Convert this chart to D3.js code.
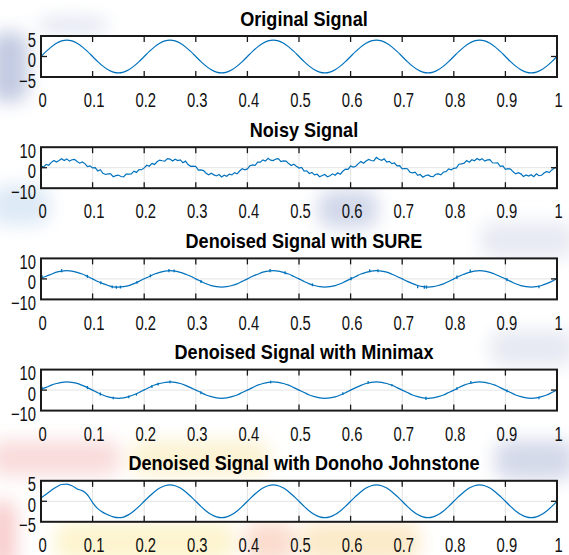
<!DOCTYPE html>
<html>
<head>
<meta charset="utf-8">
<script src="https://cdn.jsdelivr.net/npm/d3@7"></script>
<style>
  body { margin: 0; background: #fff; }
  svg { display: block; }
  text { font-family: "Liberation Sans", Arial, sans-serif; }
</style>
</head>
<body>
<svg id="chart" width="569" height="555"></svg>
<script>
// sample spacing (seconds) of the traces
const step = 0.01
const noisyStep = 0.005

const xTicks = [0, 0.1, 0.2, 0.3, 0.4, 0.5, 0.6, 0.7, 0.8, 0.9, 1]
const xTickLabels = ["0", "0.1", "0.2", "0.3", "0.4", "0.5", "0.6", "0.7", "0.8", "0.9", "1"]

const titles = [
  "Original Signal",
  "Noisy Signal",
  "Denoised Signal with SURE",
  "Denoised Signal with Minimax",
  "Denoised Signal with Donoho Johnstone"
]
const yTicksSmall = [-5, 0, 5]
const yTicksLarge = [-10, 0, 10]

const originalSignal = [
  0, 1.24, 2.35, 3.24, 3.8, 4, 3.8, 3.24, 2.35, 1.24,
  0, -1.24, -2.35, -3.24, -3.8, -4, -3.8, -3.24, -2.35, -1.24,
  0, 1.24, 2.35, 3.24, 3.8, 4, 3.8, 3.24, 2.35, 1.24,
  0, -1.24, -2.35, -3.24, -3.8, -4, -3.8, -3.24, -2.35, -1.24,
  0, 1.24, 2.35, 3.24, 3.8, 4, 3.8, 3.24, 2.35, 1.24,
  0, -1.24, -2.35, -3.24, -3.8, -4, -3.8, -3.24, -2.35, -1.24,
  0, 1.24, 2.35, 3.24, 3.8, 4, 3.8, 3.24, 2.35, 1.24,
  0, -1.24, -2.35, -3.24, -3.8, -4, -3.8, -3.24, -2.35, -1.24,
  0, 1.24, 2.35, 3.24, 3.8, 4, 3.8, 3.24, 2.35, 1.24,
  0, -1.24, -2.35, -3.24, -3.8, -4, -3.8, -3.24, -2.35, -1.24,
  0
]

const noisySignal = [
  1.0, 0.3, 1.6, 1.2, 2.6, 3.5, 2.8, 3.5, 4.4, 3.5,
  4.3, 3.2, 3.9, 4.1, 3.0, 2.2, 2.8, 2.0, 0.5, 0.9,
  -0.1, 0.0, -1.6, -1.0, -2.7, -3.3, -3.0, -3.0, -4.4, -3.9,
  -3.6, -4.3, -4.5, -3.1, -3.1, -3.0, -1.7, -2.3, -0.9, -1.0,
  -0.1, 1.2, 0.7, 2.1, 1.6, 2.9, 3.7, 3.4, 3.2, 4.4,
  4.2, 3.3, 4.1, 3.5, 3.8, 2.4, 3.2, 1.5, 0.7, 0.8,
  0.6, -1.2, -1.1, -1.4, -2.7, -3.5, -2.7, -3.5, -4.0, -3.3,
  -4.5, -3.7, -4.2, -3.1, -3.5, -2.4, -3.0, -1.6, -0.5, -1.0,
  -0.6, 1.0, 1.4, 1.1, 2.7, 2.7, 3.8, 3.2, 4.6, 3.7,
  3.5, 4.2, 4.4, 3.0, 3.3, 3.2, 2.0, 1.1, 1.7, 0.7,
  -0.2, 0.1, -1.7, -1.5, -2.8, -2.3, -3.5, -3.2, -4.4, -3.8,
  -3.3, -4.4, -3.9, -3.0, -3.7, -2.5, -3.2, -1.7, -0.7, -0.8,
  0.8, 0.3, 0.7, 2.0, 3.0, 2.2, 3.3, 4.0, 3.5, 3.3,
  5.0, 4.1, 3.6, 4.3, 2.7, 3.1, 2.0, 2.3, 0.9, 1.0,
  -0.6, -0.4, -0.5, -2.2, -2.5, -2.2, -3.7, -3.3, -4.6, -3.9,
  -3.5, -4.2, -4.4, -3.2, -3.0, -3.5, -2.1, -1.9, -0.6, -1.0,
  -0.3, -0.1, 1.7, 1.9, 2.2, 3.5, 2.7, 3.9, 3.4, 4.5,
  3.7, 4.4, 3.2, 3.8, 3.9, 2.4, 2.3, 2.4, 0.7, 0.9,
  -0.8, -0.5, -0.7, -2.0, -3.0, -2.4, -3.0, -4.3, -3.5, -4.1,
  -3.4, -4.4, -3.0, -3.9, -3.7, -2.6, -1.8, -2.4, -1.1, -0.2,
  0.4
]

const sureSignal = [
  0.4, 1.3, 2.3, 3.3, 3.8, 4.0, 3.8, 3.2, 2.4, 1.2,
  0.0, -1.3, -2.3, -3.2, -3.9, -4.0, -3.8, -3.3, -2.3, -1.2,
  0.1, 1.2, 2.4, 3.2, 3.8, 4.0, 3.8, 3.2, 2.3, 1.3,
  0.0, -1.2, -2.4, -3.3, -3.8, -4.0, -3.8, -3.2, -2.4, -1.2,
  0.0, 1.3, 2.3, 3.3, 3.8, 4.0, 3.8, 3.2, 2.4, 1.2,
  0.0, -1.3, -2.4, -3.2, -3.8, -4.0, -3.8, -3.3, -2.4, -1.2,
  0.0, 1.2, 2.4, 3.2, 3.8, 4.0, 3.8, 3.3, 2.3, 1.2,
  0.0, -1.2, -2.3, -3.2, -3.8, -4.0, -3.8, -3.2, -2.4, -1.3,
  0.0, 1.3, 2.3, 3.2, 3.8, 4.0, 3.8, 3.2, 2.3, 1.2,
  0.0, -1.2, -2.4, -3.3, -3.8, -4.0, -3.8, -3.2, -2.3, -1.2,
  0.2
]
// short spikes left by the thresholding: [t, low, high]
const sureGlitches = [
  [0.002, 0.2, 1.8], [0.04, 3.2, 4.8], [0.09, 0.5, 2.0], [0.116, -2.6, -1.2],
  [0.138, -4.6, -3.2], [0.146, -4.8, -3.4], [0.154, -4.7, -3.3], [0.186, -2.4, -1.0],
  [0.212, 0.8, 2.2], [0.248, 3.2, 4.8], [0.258, 3.2, 4.6], [0.31, -2.0, -0.5],
  [0.444, 3.3, 4.8], [0.473, 2.3, 3.7], [0.526, -3.6, -2.2], [0.601, -0.6, 0.9],
  [0.637, 3.2, 4.7], [0.653, 3.3, 4.7], [0.73, -4.5, -3.1], [0.743, -4.8, -3.2],
  [0.747, -4.8, -3.2], [0.806, 0.0, 1.6], [0.832, 3.1, 4.6], [0.903, -1.1, 0.4],
  [0.965, -4.6, -3.2]
]

const minimaxSignal = [
  0.5, 1.3, 2.4, 3.2, 3.8, 4.0, 3.8, 3.3, 2.3, 1.2,
  0.0, -1.3, -2.4, -3.3, -3.8, -4.0, -3.8, -3.2, -2.3, -1.2,
  0.1, 1.3, 2.5, 3.2, 3.7, 4.0, 3.8, 3.2, 2.3, 1.2,
  0.0, -1.2, -2.4, -3.2, -3.8, -4.0, -3.8, -3.2, -2.4, -1.2,
  0.0, 1.2, 2.4, 3.2, 3.8, 4.0, 3.8, 3.2, 2.4, 1.2,
  0.0, -1.2, -2.4, -3.2, -3.8, -4.0, -3.8, -3.3, -2.4, -1.3,
  0.0, 1.2, 2.3, 3.2, 3.8, 4.0, 3.8, 3.2, 2.4, 1.2,
  0.0, -1.2, -2.4, -3.2, -3.8, -4.0, -3.8, -3.2, -2.4, -1.2,
  0.0, 1.3, 2.4, 3.2, 3.8, 4.0, 3.8, 3.2, 2.4, 1.2,
  0.0, -1.2, -2.4, -3.2, -3.8, -4.0, -3.8, -3.2, -2.4, -1.2,
  0.1
]
const minimaxGlitches = [
  [0.002, 0.2, 1.6], [0.09, 0.5, 2.0], [0.115, -2.6, -1.2], [0.14, -4.5, -3.2],
  [0.17, -4.0, -2.6], [0.185, -2.7, -1.4], [0.215, 1.0, 2.5], [0.227, 2.2, 3.6],
  [0.25, 3.4, 4.7], [0.31, -2.0, -0.5], [0.445, 3.3, 4.6], [0.585, -2.4, -1.1],
  [0.634, 3.2, 4.5], [0.68, 1.9, 2.8], [0.746, -4.8, -3.3], [0.806, 0.1, 1.4],
  [0.833, 3.1, 4.5], [0.903, -1.0, 0.3], [0.965, -4.5, -3.2]
]

const donohoSignal = [
  0.8, 1.7, 2.7, 3.5, 4.1, 4.2, 3.8, 3.0, 2.6, 1.6,
  -0.3, -1.8, -2.7, -3.3, -3.8, -4.0, -3.85, -3.25, -2.35, -1.25,
  0, 1.24, 2.35, 3.24, 3.8, 4, 3.8, 3.24, 2.35, 1.24,
  0, -1.24, -2.35, -3.24, -3.8, -4, -3.8, -3.24, -2.35, -1.24,
  0, 1.24, 2.35, 3.24, 3.8, 4, 3.8, 3.24, 2.35, 1.24,
  0, -1.24, -2.35, -3.24, -3.8, -4, -3.8, -3.24, -2.35, -1.24,
  0, 1.24, 2.35, 3.24, 3.8, 4, 3.8, 3.24, 2.35, 1.24,
  0, -1.24, -2.35, -3.24, -3.8, -4, -3.8, -3.24, -2.35, -1.24,
  0, 1.24, 2.35, 3.24, 3.8, 4, 3.8, 3.24, 2.35, 1.24,
  0, -1.24, -2.35, -3.24, -3.8, -4, -3.8, -3.24, -2.35, -1.24,
  0
]

const panels = [
  { title: titles[0], values: originalSignal, dt: step, glitches: [], yTicks: yTicksSmall, grid: false, curve: d3.curveMonotoneX },
  { title: titles[1], values: noisySignal, dt: noisyStep, glitches: [], yTicks: yTicksLarge, grid: true, curve: d3.curveLinear },
  { title: titles[2], values: sureSignal, dt: step, glitches: sureGlitches, yTicks: yTicksLarge, grid: true, curve: d3.curveMonotoneX },
  { title: titles[3], values: minimaxSignal, dt: step, glitches: minimaxGlitches, yTicks: yTicksLarge, grid: true, curve: d3.curveMonotoneX },
  { title: titles[4], values: donohoSignal, dt: step, glitches: [], yTicks: yTicksSmall, grid: true, curve: d3.curveMonotoneX }
]

const width = 569
const marginLeft = 41
const marginRight = 12
const panelTop = 36
const panelGap = 111.2
const panelHeight = 41
const tickLen = 6
const lineColor = "#0072BD"

const svg = d3.select("#chart")

// faint watermark behind the figure
const watermark = [
  { x: -10, y: 32, w: 38, h: 70, c: "#c3cbe2" },
  { x: 38, y: 18, w: 70, h: 14, c: "#dde2ef" },
  { x: -10, y: 185, w: 60, h: 40, c: "#dde9f6" },
  { x: 318, y: 190, w: 60, h: 38, c: "#d2d8ea" },
  { x: 480, y: 222, w: 95, h: 36, c: "#e7eaf3" },
  { x: 490, y: 330, w: 85, h: 36, c: "#e6e9f2" },
  { x: 495, y: 440, w: 80, h: 40, c: "#d4d9ea" },
  { x: -10, y: 440, w: 130, h: 36, c: "#f9dcdc" },
  { x: 130, y: 440, w: 140, h: 36, c: "#fcf3d3" },
  { x: -10, y: 500, w: 26, h: 70, c: "#f8cccc" },
  { x: 55, y: 522, w: 180, h: 40, c: "#fdf4cf" },
  { x: 245, y: 522, w: 50, h: 40, c: "#fbdccd" },
  { x: 300, y: 522, w: 120, h: 40, c: "#fceac9" }
]
svg.append("defs").append("filter").attr("id", "blur")
    .attr("x", "-30%").attr("y", "-30%").attr("width", "160%").attr("height", "160%")
    .append("feGaussianBlur").attr("stdDeviation", 9)
svg.append("g")
    .attr("filter", "url(#blur)")
    .selectAll("rect")
    .data(watermark)
    .join("rect")
    .attr("x", d => d.x).attr("y", d => d.y)
    .attr("width", d => d.w).attr("height", d => d.h)
    .attr("rx", 14)
    .attr("fill", d => d.c)

const x = d3.scaleLinear([0, 1], [marginLeft, width - marginRight])

function squeeze(sel, k) {
  sel.each(function () {
    const w = this.getComputedTextLength()
    this.setAttribute("textLength", w * k)
    this.setAttribute("lengthAdjust", "spacingAndGlyphs")
  })
}

panels.forEach((p, i) => {
  const top = panelTop + i * panelGap
  const bottom = top + panelHeight
  const yMax = d3.max(p.yTicks)
  const y = d3.scaleLinear([-yMax, yMax], [bottom, top])
  const g = svg.append("g")

  g.append("rect")
      .attr("x", x(0)).attr("y", top)
      .attr("width", x(1) - x(0)).attr("height", panelHeight)
      .attr("fill", "#fff")

  if (p.grid) {
    g.append("g")
        .selectAll("line")
        .data(xTicks.slice(1, -1))
        .join("line")
        .attr("x1", d => x(d)).attr("x2", d => x(d))
        .attr("y1", top).attr("y2", bottom)
        .attr("stroke", "#e3e3e3")
    g.append("line")
        .attr("x1", x(0)).attr("x2", x(1))
        .attr("y1", y(0)).attr("y2", y(0))
        .attr("stroke", "#e3e3e3")
  }

  const points = p.values.map((v, k) => [k * p.dt, v])
  g.append("path")
      .attr("d", d3.line().x(d => x(d[0])).y(d => y(d[1])).curve(p.curve)(points))
      .attr("fill", "none")
      .attr("stroke", lineColor)
      .attr("stroke-width", 1.2)

  g.append("g")
      .selectAll("line")
      .data(p.glitches)
      .join("line")
      .attr("x1", d => x(d[0])).attr("x2", d => x(d[0]))
      .attr("y1", d => y(d[1])).attr("y2", d => y(d[2]))
      .attr("stroke", lineColor)
      .attr("stroke-width", 1.3)

  // inward tick marks on top, bottom and at y = 0
  const ticks = g.append("g").attr("stroke", "#1a1a1a").attr("stroke-width", 1.3)
  xTicks.slice(1, -1).forEach(t => {
    ticks.append("line").attr("x1", x(t)).attr("x2", x(t)).attr("y1", top).attr("y2", top + tickLen)
    ticks.append("line").attr("x1", x(t)).attr("x2", x(t)).attr("y1", bottom).attr("y2", bottom - tickLen)
  })
  ticks.append("line").attr("x1", x(0)).attr("x2", x(0) + tickLen).attr("y1", y(0)).attr("y2", y(0))
  ticks.append("line").attr("x1", x(1)).attr("x2", x(1) - tickLen).attr("y1", y(0)).attr("y2", y(0))

  g.append("rect")
      .attr("x", x(0)).attr("y", top)
      .attr("width", x(1) - x(0)).attr("height", panelHeight)
      .attr("fill", "none")
      .attr("stroke", "#1a1a1a")
      .attr("stroke-width", 2)

  const xAxis = g.append("g")
      .attr("transform", `translate(0,${bottom})`)
      .call(d3.axisBottom(x).tickValues(xTicks).tickFormat((d, k) => xTickLabels[k]).tickSize(0).tickPadding(16))
  xAxis.select(".domain").remove()
  xAxis.selectAll("text")
      .attr("font-size", 20)
      .attr("font-family", "Liberation Sans, Arial, sans-serif")
      .attr("fill", "#111")
      .attr("dx", 1)

  const yAxis = g.append("g")
      .attr("transform", `translate(${marginLeft},0)`)
      .call(d3.axisLeft(y).tickValues(p.yTicks).tickFormat(d3.format("d")).tickSize(0).tickPadding(5))
  yAxis.select(".domain").remove()
  yAxis.selectAll("text")
      .attr("font-size", 20)
      .attr("font-family", "Liberation Sans, Arial, sans-serif")
      .attr("fill", "#111")
      .attr("dy", "0.5em")

  squeeze(xAxis.selectAll("text"), 0.74)
  squeeze(yAxis.selectAll("text"), 0.74)

  const title = g.append("text")
      .attr("x", 304)
      .attr("y", top - 10.5)
      .attr("text-anchor", "middle")
      .attr("font-size", 21)
      .attr("font-weight", "bold")
      .attr("fill", "#000")
      .text(p.title)
  squeeze(title, 0.86)
})
</script>
</body>
</html>
